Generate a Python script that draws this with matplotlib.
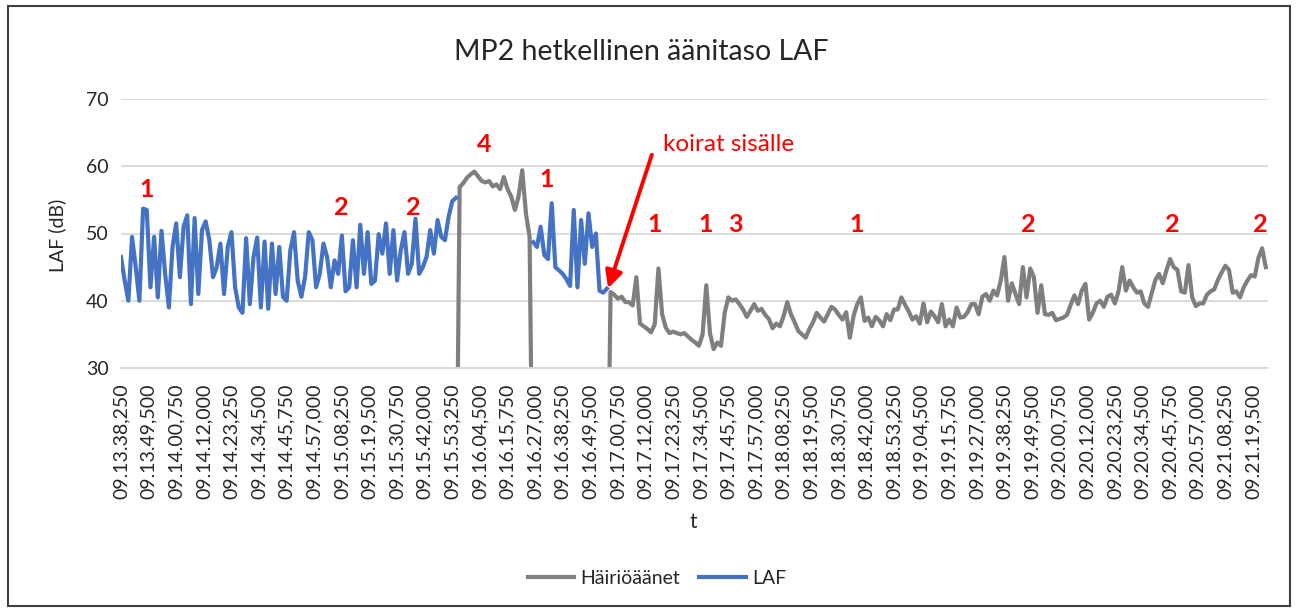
import matplotlib
matplotlib.use("Agg")
import matplotlib.pyplot as plt
from matplotlib.patches import Rectangle
import numpy as np

plt.rcParams['font.family'] = ['Lato', 'DejaVu Sans']

sample_step = 1.5
tick_step = 11.25

tick_labels = [
    "09.13.38,250", "09.13.49,500", "09.14.00,750", "09.14.12,000", "09.14.23,250",
    "09.14.34,500", "09.14.45,750", "09.14.57,000", "09.15.08,250", "09.15.19,500",
    "09.15.30,750", "09.15.42,000", "09.15.53,250", "09.16.04,500", "09.16.15,750",
    "09.16.27,000", "09.16.38,250", "09.16.49,500", "09.17.00,750", "09.17.12,000",
    "09.17.23,250", "09.17.34,500", "09.17.45,750", "09.17.57,000", "09.18.08,250",
    "09.18.19,500", "09.18.30,750", "09.18.42,000", "09.18.53,250", "09.19.04,500",
    "09.19.15,750", "09.19.27,000", "09.19.38,250", "09.19.49,500", "09.20.00,750",
    "09.20.12,000", "09.20.23,250", "09.20.34,500", "09.20.45,750", "09.20.57,000",
    "09.21.08,250", "09.21.19,500",
]

# LAF (dB), blue part before the first disturbance
laf_a = [
    46.5, 43, 40, 49.5, 45, 40, 53.7, 53.5, 42, 49.5,
    40.5, 50.4, 44, 39, 48, 51.5, 43.5, 51, 52.7, 39.5,
    52.3, 41, 50.5, 51.8, 49, 43.5, 45, 48.5, 41, 48,
    50.2, 42, 39, 38.2, 49.3, 39.5, 46.5, 49.4, 39, 48.8,
    38.8, 48.5, 41, 48, 40.6, 40, 47.5, 50.2, 43, 40.6,
    43.5, 50.2, 49, 42, 44, 48.5, 46.5, 42, 46, 44,
    49.7, 41.4, 42, 49, 42, 51.3, 44, 50.2, 42.5, 43,
    49.9, 47, 51.5, 44, 50.5, 43, 47.5, 50.2, 44, 45.5,
    52.2, 44, 45, 46.5, 50.5, 47, 52, 49.5, 49, 52.5,
    54.8, 55.3,
]
# Häiriöäänet, first disturbance ("4")
hairio_a = [
    56.9, 57.5, 58.3, 58.8, 59.2, 58.5, 57.8, 57.6, 57.8, 57.0,
    57.3, 56.6, 58.4, 56.6, 55.5, 53.5, 55.5, 59.4, 53.0, 49.5,
]
# LAF, blue part until "koirat sisälle"
laf_b = [
    48.7, 48, 51, 46.8, 46.2, 54.5, 45, 44.5, 44, 43.2,
    42.2, 53.5, 42, 52, 45.5, 53, 48, 50, 41.5, 41.2,
    41.8,
]
# Häiriöäänet, rest of the measurement
hairio_b = [
    41.3, 40.9, 40.3, 40.6, 39.8, 39.8, 39.3,
    43.5, 36.6, 36.2, 35.8, 35.3, 36.5, 44.8, 38, 36, 35.2,
    35.4, 35.2, 35, 35.2, 34.7, 34.2, 33.8,
    33.3, 35.0, 42.3, 35.2,
    32.8, 33.8, 33.3, 38.2, 40.5, 40, 40.2, 39.5, 38.7, 37.6,
    38.5, 39.5, 38.5, 38.8, 37.9, 37.3, 35.9, 36.6, 36.2, 37.7,
    39.8, 38, 36.8, 35.5, 35.0, 34.5, 35.8, 36.8, 38.2, 37.5,
    36.9, 38.0, 39.1, 38.7, 37.9, 37.2, 38.3, 34.5, 37.7, 39.5,
    40.5, 37, 37.5, 36.2, 37.6, 37.1, 36.2, 38, 37.1, 38.7,
    38.7, 40.5, 39.4, 38.4, 37.2, 37.7, 36.6, 39.6, 36.8, 38.4,
    37.7, 36.8, 39.5, 36.2, 37.2, 36.2, 39.0, 37.5, 37.6, 38.3,
    39.5, 39.5, 38.0, 40.6, 41.0, 40.0, 41.5, 40.8, 43.0, 46.5,
    40, 42.6, 41.0, 39.5, 45.0, 40.5, 44.8, 43.5, 38.2, 42.3,
    38.0, 37.9, 38.2, 37.1, 37.3, 37.5, 37.9, 39.4, 40.8, 39.5,
    41.5, 42.5, 37.2, 38.2, 39.6, 40.0, 39.1, 40.6, 40.9, 39.6,
    41.4, 45, 41.5, 43.0, 42.0, 41.2, 41.4, 39.6, 39.1, 41.1,
    43.1, 44.0, 42.6, 44.5, 46.2, 45.0, 44.6, 41.4, 41.2, 45.3,
    40.5, 39.2, 39.6, 39.6, 40.9, 41.4, 41.7, 43.1, 44.2, 45.2,
    44.6, 41.2, 41.4, 40.5, 42.0, 43.0, 43.8, 43.6, 46.4, 47.8, 45.0,
]

# red event numbers: (text, time s, dB)
event_labels = [
    ("1", 10.4, 56.5), ("2", 89.9, 53.9), ("2", 119.2, 53.9), ("4", 147.8, 63.2),
    ("1", 173.5, 58.0), ("1", 217.5, 51.4), ("1", 238.3, 51.4), ("3", 250.5, 51.4),
    ("1", 299.8, 51.4), ("2", 369.5, 51.4), ("2", 428.3, 51.4), ("2", 464.2, 51.4),
]

# LAF has gaps where the disturbance series has values, the disturbance series is 0 elsewhere
laf = np.concatenate([laf_a, np.full(len(hairio_a), np.nan), laf_b, np.full(len(hairio_b), np.nan)])
hairio = np.concatenate([np.zeros(len(laf_a)), hairio_a, np.zeros(len(laf_b)), hairio_b])
t = np.arange(len(laf)) * sample_step

W, H = 1297, 612
fig = plt.figure(figsize=(W / 100, H / 100), dpi=100)
ax = fig.add_axes([121 / W, 1 - 368 / H, (1268 - 121) / W, (368 - 99) / H])

ax.plot(t, hairio, color='#7f7f7f', lw=3.0, solid_joinstyle='round', label='Häiriöäänet')
ax.plot(t, laf, color='#4472c4', lw=3.0, solid_joinstyle='round', label='LAF')

ax.set_ylim(30, 70)
ax.set_xlim(0, 467.4)
ax.set_yticks(range(30, 71, 10))
ax.set_xticks(np.arange(len(tick_labels)) * tick_step)
ax.set_xticklabels(tick_labels, rotation=90)
ax.grid(axis='y', color='#d9d9d9', lw=1.3)
ax.set_axisbelow(True)
for s in ['top', 'right', 'left']:
    ax.spines[s].set_visible(False)
ax.spines['bottom'].set_color('#d9d9d9')
ax.spines['bottom'].set_linewidth(1.3)
ax.tick_params(axis='x', length=0, labelsize=14, colors='#262626', pad=11)
ax.tick_params(axis='y', length=0, labelsize=14, colors='#262626', pad=9)

for txt, tx, ty in event_labels:
    ax.text(tx, ty, txt, color='red', fontsize=18, fontweight='bold', ha='center', va='center')

ax.annotate('', xy=(198.5, 41.85), xytext=(216.3, 61.7),
            arrowprops=dict(arrowstyle='-|>', color='red', lw=2.8, mutation_scale=26,
                            shrinkA=0, shrinkB=0))
ax.text(220.7, 63.2, 'koirat sisälle', color='red', fontsize=17.5, ha='left', va='center')

fig.text(641 / W, 1 - 52 / H, 'MP2 hetkellinen äänitaso LAF', fontsize=20.5,
         color='#262626', ha='center', va='center')
fig.text(57 / W, 1 - 235 / H, 'LAF (dB)', fontsize=14, color='#262626',
         rotation=90, ha='center', va='center')
fig.text(693 / W, 1 - 522 / H, 't', fontsize=15, color='#262626', ha='center', va='center')

fig.legend(loc='center', bbox_to_anchor=(657 / W, 1 - 578 / H), ncol=2, frameon=False,
           fontsize=14, handlelength=2.4, handletextpad=0.3, columnspacing=1.0,
           labelcolor='#262626')

fig.patches.append(Rectangle((8 / W, 6 / H), (1290 - 8) / W, (606 - 6) / H,
                             transform=fig.transFigure, fill=False,
                             edgecolor='#404040', lw=1.5))

fig.savefig('out.png', dpi=100)
